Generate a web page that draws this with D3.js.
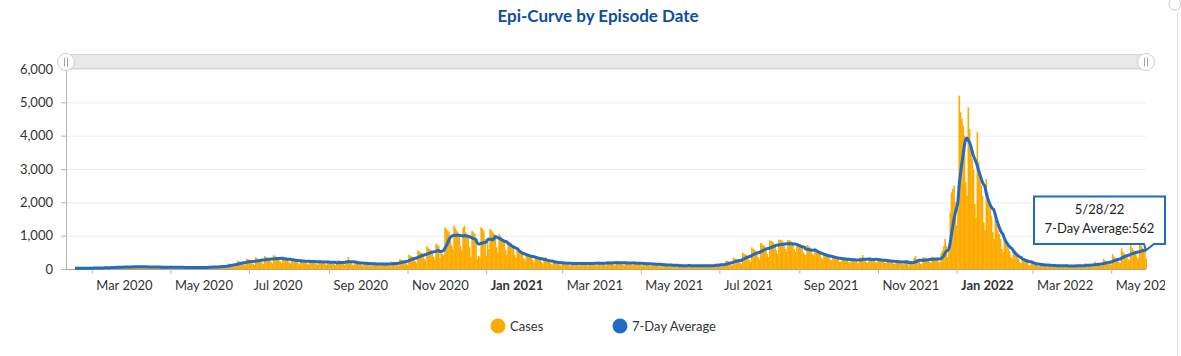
<!DOCTYPE html>
<html>
<head>
<meta charset="utf-8">
<script src="https://cdn.jsdelivr.net/npm/d3@7"></script>
<style>
  html, body { margin: 0; padding: 0; background: #fff; }
  svg { display: block; font-family: Lato, "Open Sans", sans-serif; }
</style>
</head>
<body>
<svg id="chart" width="1181" height="356"></svg>
<script>
// ---------------- DATA ----------------
const titleText = "Epi-Curve by Episode Date";
const startDate = "2020-02-17";   // first daily value (Monday)
const domainStart = "2020-02-10";
const domainEnd = "2022-05-28";
// daily cases by episode date, one row per week (Mon..Sun)
const cases = [
  25,24,22,23,20,15,11,
  33,30,29,27,25,18,14,
  39,36,35,33,30,21,16,
  52,48,46,44,40,28,22,
  65,60,58,55,50,35,27,
  78,72,69,66,60,42,33,
  85,78,75,72,65,46,36,
  84,79,74,71,66,45,36,
  78,72,70,66,59,42,33,
  72,66,63,61,55,38,30,
  65,60,58,55,50,35,27,
  66,59,57,56,49,36,28,
  58,54,52,50,45,31,25,
  59,53,51,50,46,32,24,
  40,66,62,58,53,37,29,
  78,72,69,66,60,42,33,
  104,96,92,88,80,56,44,
  169,156,150,143,130,91,72,
  247,228,219,209,190,133,105,
  312,290,280,270,180,150,120,
  351,324,311,297,270,189,149,
  390,360,345,330,300,210,165,
  416,384,368,352,320,224,176,
  377,348,334,319,290,203,160,
  325,300,288,275,250,175,138,
  299,276,265,253,230,161,127,
  286,264,253,242,220,154,121,
  273,252,242,231,210,147,116,
  260,240,230,220,200,140,110,
  150,270,250,235,210,150,115,
  254,234,360,215,195,137,107,
  234,216,207,198,180,126,99,
  208,192,184,176,160,112,88,
  195,180,173,165,150,105,83,
  195,180,173,165,150,105,83,
  221,204,196,187,170,119,94,
  299,276,265,253,230,161,127,
  429,396,380,363,330,231,182,
  559,516,495,473,430,301,237,
  676,624,598,572,520,364,286,
  760,720,700,330,520,450,420,
  1250,1200,1150,1100,1000,700,600,
  1300,1220,1150,1100,1000,680,550,
  1240,1300,1100,1040,950,650,370,
  1150,1100,1050,900,300,400,350,
  1250,1200,1150,900,400,800,600,
  1200,1150,1100,1050,950,650,500,
  1050,1000,950,900,820,560,440,
  700,820,780,720,650,420,330,
  590,540,520,500,450,310,250,
  480,445,425,405,370,260,205,
  390,360,345,330,300,210,165,
  260,360,270,255,235,160,125,
  247,228,219,209,190,133,105,
  221,204,196,187,170,119,94,
  215,198,190,182,165,116,91,
  214,199,189,181,166,115,92,
  221,204,196,187,170,119,94,
  228,210,201,193,175,123,96,
  241,222,213,204,185,130,102,
  240,223,212,205,184,131,101,
  234,216,207,198,180,126,99,
  221,204,196,187,170,119,94,
  202,186,178,171,155,109,85,
  182,168,161,154,140,98,77,
  156,144,138,132,120,84,66,
  143,132,127,121,110,77,60,
  80,135,125,118,105,72,58,
  124,114,109,105,95,67,52,
  123,115,108,106,94,66,53,
  130,120,115,110,100,70,55,
  169,156,150,143,130,91,72,
  160,250,240,225,200,130,100,
  338,312,299,286,260,182,143,
  494,456,437,418,380,266,209,
  650,600,575,550,500,350,275,
  780,744,713,682,620,450,351,
  860,840,820,790,720,560,450,
  880,870,860,830,760,600,520,
  870,860,850,820,750,590,510,
  780,750,730,700,650,500,440,
  420,720,680,650,580,460,410,
  560,540,520,500,460,340,300,
  470,450,430,410,380,270,250,
  400,380,360,345,320,220,215,
  360,345,330,310,290,200,195,
  330,320,305,290,270,190,185,
  345,330,420,300,280,195,190,
  355,340,330,315,290,205,195,
  320,305,295,280,260,180,180,
  285,270,260,250,230,160,155,
  260,250,240,225,210,145,140,
  270,260,250,80,180,160,130,
  330,390,290,270,250,160,140,
  360,345,330,310,290,200,195,
  370,355,340,325,300,210,200,
  480,560,680,900,700,350,530,
  1700,2300,2400,2500,2000,1300,1800,
  5200,4700,4500,4300,4000,2600,2200,
  4850,4200,3700,3300,3000,1950,1550,
  4100,3200,2800,2500,2200,1400,1150,
  2700,2300,2000,1800,1600,1100,900,
  1700,1350,1150,1050,900,600,500,
  950,800,700,620,540,360,300,
  550,450,400,350,300,200,170,
  260,320,280,250,210,120,100,
  230,190,170,150,130,90,80,
  180,150,135,120,105,80,70,
  150,125,112,100,90,65,58,
  140,120,105,95,85,65,55,
  135,112,100,90,80,60,53,
  150,125,112,100,90,65,58,
  180,150,135,120,105,80,70,
  225,185,165,150,135,100,90,
  310,260,235,210,185,140,130,
  440,370,335,300,270,200,185,
  620,520,470,420,370,280,260,
  750,630,570,510,450,340,320,
  820,710,650,600,520,314
];
const yTicks = [0, 1000, 2000, 3000, 4000, 5000, 6000];
const xTickDates = ["2020-03-01","2020-05-01","2020-07-01","2020-09-01","2020-11-01","2021-01-01",
  "2021-03-01","2021-05-01","2021-07-01","2021-09-01","2021-11-01","2022-01-01","2022-03-01","2022-05-01"];
const xTickLabels = ["Mar 2020","May 2020","Jul 2020","Sep 2020","Nov 2020","Jan 2021",
  "Mar 2021","May 2021","Jul 2021","Sep 2021","Nov 2021","Jan 2022","Mar 2022","May 2022"];
const legendItems = ["Cases", "7-Day Average"];

// ---------------- STYLE ----------------
const barColor = "#fdab00";
const lineColor = "#1f6bc6";
const titleColor = "#0b4ea6";
const L = 66, R = 1146, T = 69, B = 269;

const parse = d3.utcParse("%Y-%m-%d");
const start = parse(startDate);
const data = cases.map((v, i) => {
  const win = cases.slice(Math.max(0, i - 6), i + 1);
  return { date: d3.utcDay.offset(start, i), value: v, avg: d3.mean(win) };
});

const x = d3.scaleUtc().domain([parse(domainStart), parse(domainEnd)]).range([L, R]);
const y = d3.scaleLinear().domain([0, 6000]).range([B, T]);
const dayW = x(d3.utcDay.offset(parse(domainStart), 1)) - x(parse(domainStart));

const svg = d3.select("#chart");
svg.append("defs").append("clipPath").attr("id", "clipx")
  .append("rect").attr("x", 0).attr("y", 0).attr("width", 1165).attr("height", 356);

// title
svg.append("text").attr("x", 598).attr("y", 22).attr("text-anchor", "middle")
  .attr("font-size", 17).attr("font-weight", 700).attr("fill", titleColor).text(titleText);

// right side frame decoration
svg.append("line").attr("x1", 1177.5).attr("x2", 1177.5).attr("y1", 12).attr("y2", 356)
  .attr("stroke", "#e2e2e2");
svg.append("circle").attr("cx", 1175).attr("cy", 4).attr("r", 6).attr("fill", "#fff").attr("stroke", "#ccc");

// gridlines
svg.append("g").selectAll("line").data(yTicks.filter(d => d > 0)).join("line")
  .attr("x1", L).attr("x2", R).attr("y1", d => y(d) + 0.5).attr("y2", d => y(d) + 0.5)
  .attr("stroke", "#ececec");

// y axis
const yAxis = svg.append("g").attr("transform", `translate(${L},0)`)
  .call(d3.axisLeft(y).tickValues(yTicks).tickSize(5).tickPadding(8).tickFormat(d3.format(",")));
yAxis.select(".domain").attr("stroke", "#b5b5b5");
yAxis.selectAll(".tick line").attr("stroke", "#b5b5b5");
yAxis.selectAll("text").attr("font-size", 13).attr("fill", "#333").attr("font-family", "Lato, sans-serif");

// bars
svg.append("g").selectAll("rect").data(data).join("rect")
  .attr("x", d => x(d.date) - dayW / 2)
  .attr("width", dayW + 0.35)
  .attr("y", d => y(d.value))
  .attr("height", d => B - y(d.value))
  .attr("fill", barColor);

// x axis
const xAxis = svg.append("g").attr("transform", `translate(0,${B})`).attr("clip-path", "url(#clipx)")
  .call(d3.axisBottom(x).tickValues(xTickDates.map(parse)).tickSize(5).tickPadding(7)
    .tickFormat((d, i) => xTickLabels[i]));
xAxis.select(".domain").attr("stroke", "#b0a586").attr("d", `M${L},0.5H${R}`);
xAxis.selectAll(".tick line").attr("stroke", "#b5b5b5");
xAxis.selectAll("text").attr("font-size", 13).attr("fill", "#333").attr("font-family", "Lato, sans-serif")
  .attr("text-anchor", "start").attr("x", 4)
  .attr("font-weight", (d, i) => xTickLabels[i].startsWith("Jan") ? 700 : 400);

// 7-day average line
const line = d3.line().x(d => x(d.date)).y(d => y(d.avg)).curve(d3.curveMonotoneX);
svg.append("path").datum(data).attr("d", line).attr("fill", "none")
  .attr("stroke", lineColor).attr("stroke-width", 3).attr("stroke-linejoin", "round");

// scrollbar
svg.append("rect").attr("x", L).attr("y", 54.5).attr("width", R - L).attr("height", 14)
  .attr("fill", "#e8e8e8").attr("stroke", "#d4d4d4");
[L, R].forEach(cx => {
  const g = svg.append("g");
  g.append("circle").attr("cx", cx).attr("cy", 62).attr("r", 8.5).attr("fill", "#fff")
    .attr("stroke", "#d0d0d0");
  [-1.5, 1.5].forEach(dx => g.append("line").attr("x1", cx + dx).attr("x2", cx + dx)
    .attr("y1", 57.5).attr("y2", 66.5).attr("stroke", "#999").attr("stroke-width", 0.9));
});

// tooltip
const last = data[data.length - 1];
const bx0 = 1034, bx1 = 1165, by0 = 196.5, by1 = 244;
const px = x(last.date), py = y(last.avg);
svg.append("path")
  .attr("d", `M${bx0},${by0}H${bx1}V${by1}H${px + 8}L${px},${py}L${px - 2},${by1}H${bx0}Z`)
  .attr("fill", "#fff").attr("stroke", lineColor).attr("stroke-width", 2);
svg.append("text").attr("x", (bx0 + bx1) / 2).attr("y", 214).attr("text-anchor", "middle")
  .attr("font-size", 13).attr("fill", "#222").text(d3.utcFormat("%-m/%-d/%y")(last.date));
svg.append("text").attr("x", (bx0 + bx1) / 2).attr("y", 233).attr("text-anchor", "middle")
  .attr("font-size", 13).attr("fill", "#222").text("7-Day Average:" + Math.round(last.avg));

// legend
const legX = [498, 620], legColors = [barColor, lineColor];
legendItems.forEach((t, i) => {
  svg.append("circle").attr("cx", legX[i]).attr("cy", 326).attr("r", 7.5).attr("fill", legColors[i]);
  svg.append("text").attr("x", legX[i] + 12).attr("y", 330.5).attr("font-size", 13)
    .attr("fill", "#333").text(t);
});
</script>
</body>
</html>
